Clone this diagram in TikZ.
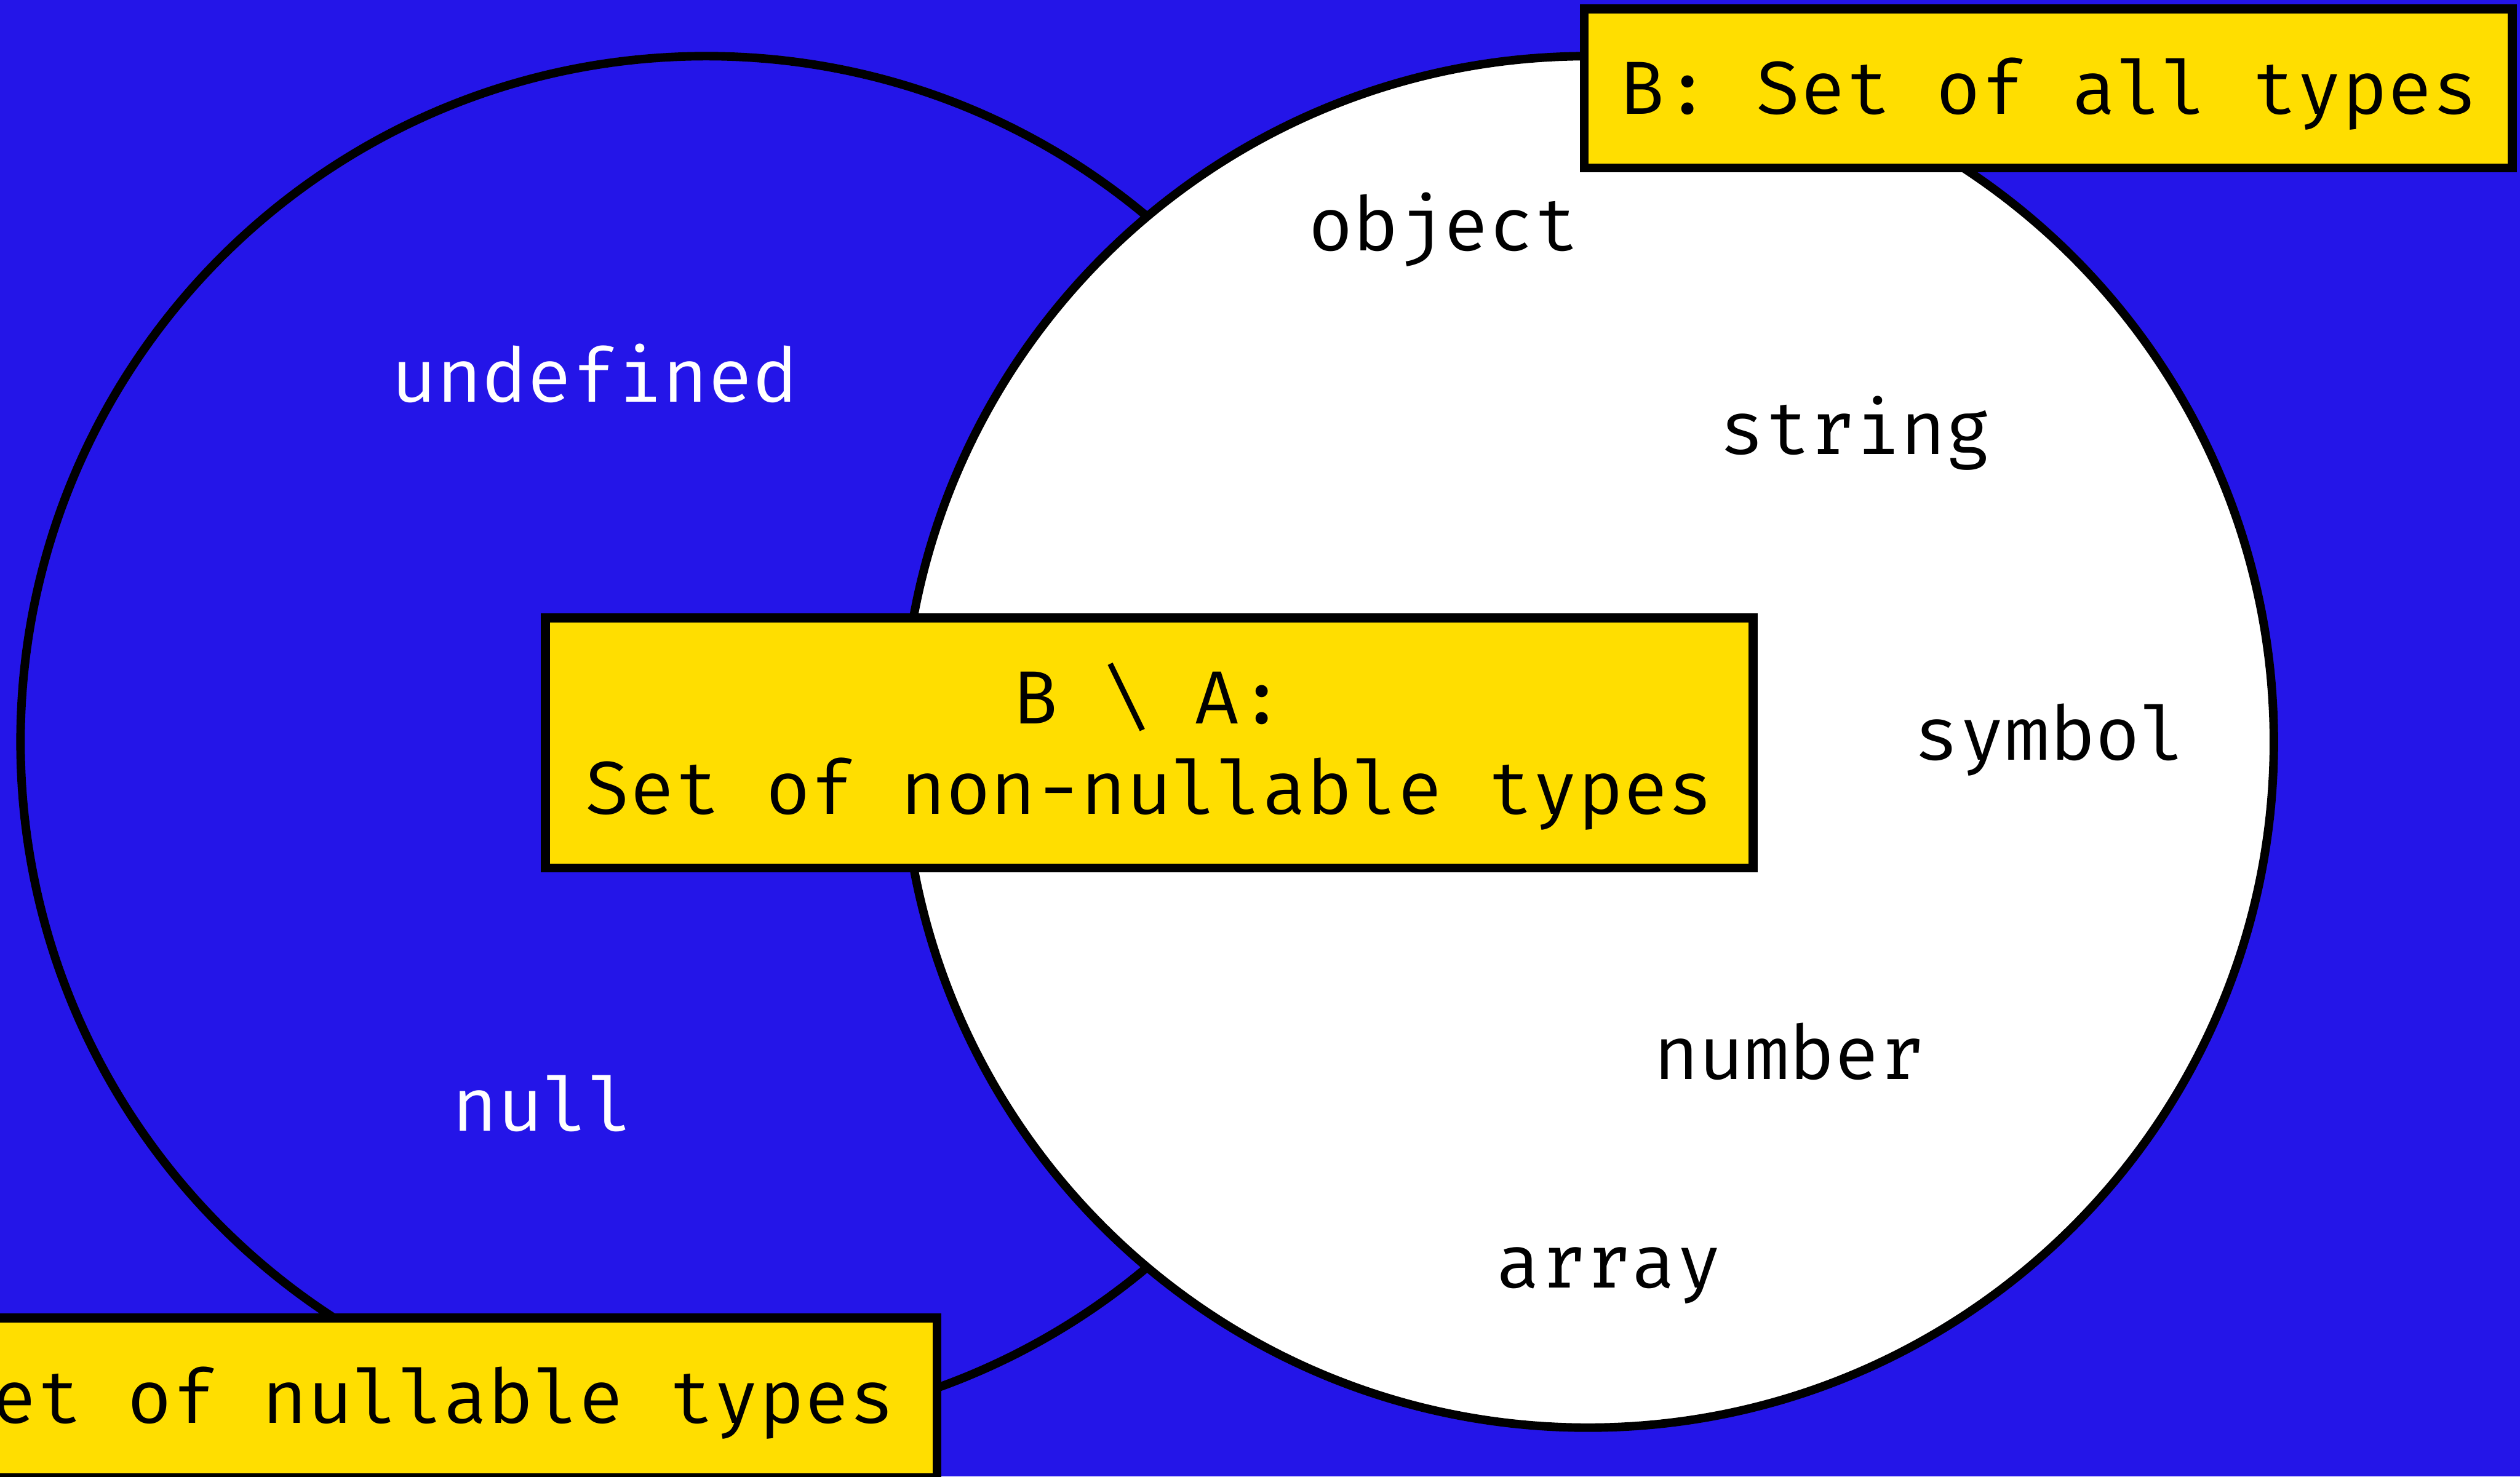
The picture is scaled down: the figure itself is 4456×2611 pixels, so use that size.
\documentclass[tikz,border=0pt]{standalone}
\usepackage{fontspec}
\newfontfamily\labelfont{Fira Mono}
\definecolor{bgblue}{RGB}{36,21,232}
\definecolor{boxyellow}{RGB}{255,222,0}
\tikzset{
  setcircle/.style={circle, draw=black, line width=4.3pt, inner sep=0pt, minimum size=24.24cm},
  setbox/.style={rectangle, draw=black, line width=4.5pt, fill=boxyellow, inner sep=0pt},
  lbl/.style={font=\labelfont\fontsize{37.84}{45.5}\selectfont, inner sep=0pt, anchor=base},
  darklbl/.style={lbl, text=black},
  lightlbl/.style={lbl, text=white},
}
\begin{document}
\begin{tikzpicture}[x=0.01cm, y=-0.01cm]
\useasboundingbox (0,0) rectangle (4456,2611);
\clip (0,0) rectangle (4456,2611);
\fill[bgblue] (0,0) rectangle (4456,2611);
% circles
\node[setcircle, fill=bgblue] (A) at (1249,1312) {};
\node[setcircle, fill=white] (B) at (2808,1312) {};
% labels in the circles
\node[lightlbl] (undef) at (1052,711) {undefined};
\node[lightlbl] (null) at (960,2000) {null};
\node[darklbl] (object) at (2553,443) {object};
\node[darklbl] (string) at (3281,803) {string};
\node[darklbl] (symbol) at (3625,1344) {symbol};
\node[darklbl] (number) at (3164,1909) {number};
\node[darklbl] (array) at (2845,2278) {array};
% boxes
\node[setbox, minimum width=16.40cm, minimum height=2.81cm] (boxB) at (3622,156.5) {};
\node[darklbl] (boxBtext) at (3623,202) {B: Set of all types};
\node[setbox, minimum width=21.34cm, minimum height=4.42cm] (boxBA) at (2032,1314) {};
\node[darklbl] (boxBAtext1) at (2032,1280) {B \textbackslash{} A:};
\node[darklbl] (boxBAtext2) at (2032,1440) {Set of non-nullable types};
\node[setbox, minimum width=20.60cm, minimum height=2.82cm] (boxA) at (626,2472) {};
\node[darklbl, anchor=base east] (boxAtext) at (1583,2517) {A: Set of nullable types};
\end{tikzpicture}
\end{document}
